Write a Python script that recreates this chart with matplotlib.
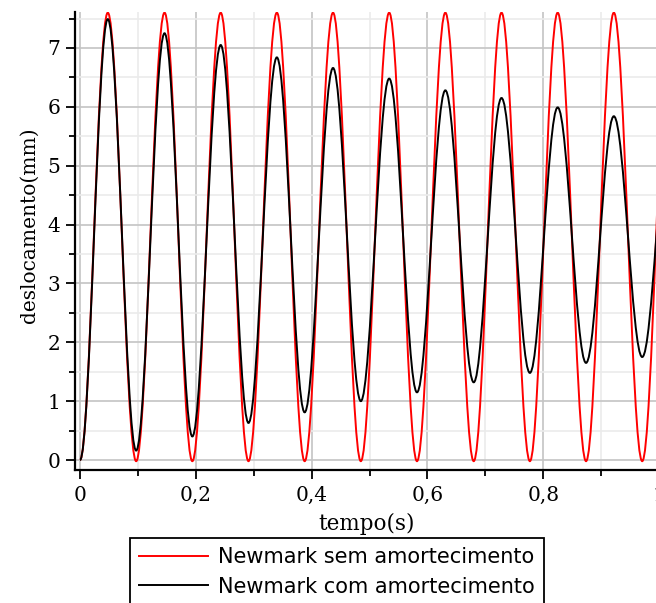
import numpy as np
import matplotlib
matplotlib.use("Agg")
import matplotlib.pyplot as plt
from matplotlib.path import Path
from matplotlib.patches import PathPatch
from matplotlib.lines import Line2D
from matplotlib.ticker import MultipleLocator, FuncFormatter

# extremos (tempo em s, deslocamento em mm)
t_picos = [0.048, 0.146, 0.243, 0.340, 0.437, 0.534, 0.631, 0.728, 0.825, 0.922, 1.019]
t_vales = [0.0, 0.097, 0.194, 0.291, 0.388, 0.485, 0.582, 0.680, 0.777, 0.874, 0.971]

sem_picos = [7.6, 7.6, 7.6, 7.6, 7.6, 7.6, 7.6, 7.6, 7.6, 7.6, 7.6]
sem_vales = [0.0, -0.02, -0.02, -0.02, -0.02, -0.02, -0.02, -0.02, -0.02, -0.02, -0.02]

com_picos = [7.49, 7.25, 7.05, 6.84, 6.66, 6.48, 6.28, 6.15, 5.99, 5.84, 5.72]
com_vales = [0.0, 0.16, 0.40, 0.63, 0.81, 1.00, 1.15, 1.32, 1.48, 1.65, 1.75]

labels = ["Newmark sem amortecimento", "Newmark com amortecimento"]
cores = ["#ff0000", "#000000"]


def curva(t_v, v_v, t_p, v_p):
    # alterna vale/pico e liga com bezier (tangente horizontal nos extremos)
    pts = []
    for tv, yv, tp, yp in zip(t_v, v_v, t_p, v_p):
        pts.append((tv, yv))
        pts.append((tp, yp))
    a = 1 - 2 / np.pi
    verts = [pts[0]]
    codes = [Path.MOVETO]
    for (t0, y0), (t1, y1) in zip(pts[:-1], pts[1:]):
        h = t1 - t0
        verts += [(t0 + a * h, y0), (t1 - a * h, y1), (t1, y1)]
        codes += [Path.CURVE4] * 3
    return Path(verts, codes)


W, H = 656, 603
fig = plt.figure(figsize=(W / 100, H / 100), dpi=100)
x0, x1 = 75, 670
yb, yt = 470, 12
ax = fig.add_axes([x0 / W, 1 - yb / H, (x1 - x0) / W, (yb - yt) / H])

for (vales, picos), cor in zip([(sem_vales, sem_picos), (com_vales, com_picos)], cores):
    p = curva(t_vales, vales, t_picos, picos)
    ax.add_patch(PathPatch(p, fill=False, edgecolor=cor, lw=1.4, transform=ax.transData,
                           clip_on=True))

px_x = 579.0
px_y = 58.86
ax.set_xlim(-(80 - x0) / px_x, (x1 - 80) / px_x)
ax.set_ylim(-(yb - 460) / px_y, (460 - yt) / px_y)

ax.xaxis.set_major_locator(MultipleLocator(0.2))
ax.xaxis.set_minor_locator(MultipleLocator(0.1))
ax.yaxis.set_major_locator(MultipleLocator(1))
ax.yaxis.set_minor_locator(MultipleLocator(0.5))
ax.xaxis.set_major_formatter(FuncFormatter(lambda v, p: ("%g" % round(v, 2)).replace(".", ",")))

ax.grid(which="major", color="#c4c4c4", lw=1.2)
ax.grid(which="minor", color="#ebebeb", lw=1.2)
ax.set_axisbelow(True)

for s in ["top", "right"]:
    ax.spines[s].set_visible(False)
for s in ["left", "bottom"]:
    ax.spines[s].set_linewidth(1.6)

ax.tick_params(which="major", length=6.5, width=1.3, pad=4, labelsize=14.5,
               direction="out")
ax.tick_params(which="minor", length=4.5, width=1.3, direction="out")
ax.tick_params(axis="x", which="major", pad=5)
for lab in ax.get_xticklabels() + ax.get_yticklabels():
    lab.set_family("DejaVu Serif")

fig.text(367 / W, 1 - 524 / H, "tempo(s)", ha="center", va="center",
         family="DejaVu Serif", fontsize=15.5)
fig.text(29 / W, 1 - 225 / H, "deslocamento(mm)", ha="center", va="center",
         rotation=90, family="DejaVu Serif", fontsize=14.5)

handles = [Line2D([], [], color=c, lw=1.4) for c in cores]
leg = fig.legend(handles, labels, loc="upper left",
                 bbox_to_anchor=(130 / W, 1 - 538 / H), bbox_transform=fig.transFigure,
                 borderaxespad=0, fancybox=False, framealpha=1, edgecolor="black",
                 prop={"family": "DejaVu Sans", "size": 15}, handlelength=3.3,
                 handletextpad=0.45, labelspacing=0.45, borderpad=0.45)
leg.get_frame().set_linewidth(1.3)

fig.savefig("out.png", dpi=100)
